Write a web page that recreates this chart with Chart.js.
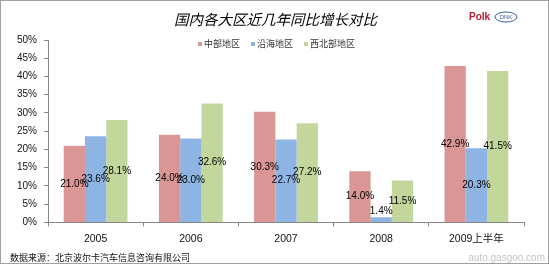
<!DOCTYPE html>
<html>
<head>
<meta charset="utf-8">
<script src="https://cdn.jsdelivr.net/npm/chart.js@4/dist/chart.umd.min.js"></script>
<style>
  body { margin: 0; background: #fff; }
  #wrap { width: 547px; height: 262px; border: 1px solid #a0a0a0; position: relative; }
</style>
</head>
<body>
<div id="wrap"><canvas id="growth"></canvas></div>
<script>
var years = ["2005", "2006", "2007", "2008", "2009上半年"];
var central = [21.0, 24.0, 30.3, 14.0, 42.9];
var coastal = [23.6, 23.0, 22.7, 1.4, 20.3];
var northwest = [28.1, 32.6, 27.2, 11.5, 41.5];

var seriesNames = ["中部地区", "沿海地区", "西北部地区"];
var barColors = ["#D99694", "#8EB4E3", "#C3D69B"];

var titleText = "国内各大区近几年同比增长对比";
var sourceText = "数据来源：北京波尔卡汽车信息咨询有限公司";

var cjk = '"Noto Sans CJK SC", sans-serif';
var latin = '"Liberation Sans", Arial, sans-serif';

// value labels in the middle of each bar, kept above the axis for tiny bars
var valueLabels = {
  id: "valueLabels",
  afterDatasetsDraw: function(chart) {
    var ctx = chart.ctx;
    ctx.save();
    ctx.font = "10px " + latin;
    ctx.fillStyle = "#000";
    ctx.textAlign = "center";
    ctx.textBaseline = "middle";
    chart.data.datasets.forEach(function(ds, i) {
      chart.getDatasetMeta(i).data.forEach(function(bar, j) {
        var y = Math.min((bar.y + bar.base) / 2, bar.base - 11);
        ctx.fillText(ds.data[j].toFixed(1) + "%", bar.x, y);
      });
    });
    ctx.restore();
  }
};

// title, legend inside the plot, source line and marks
var decor = {
  id: "decor",
  afterDraw: function(chart) {
    var ctx = chart.ctx;
    var area = chart.chartArea;
    ctx.save();

    ctx.fillStyle = "#000";
    ctx.textBaseline = "middle";
    ctx.textAlign = "center";
    ctx.font = "italic 14.5px " + cjk;
    ctx.fillText(titleText, chart.width / 2 + 1, 18);

    // legend
    ctx.font = "9px " + cjk;
    ctx.textAlign = "left";
    var widths = seriesNames.map(function(n) { return 6 + ctx.measureText(n).width; });
    var total = widths.reduce(function(a, b) { return a + b; }, 0) + 11 * (widths.length - 1);
    var x = chart.width / 2 - total / 2 + 2;
    var ly = area.top + 4;
    seriesNames.forEach(function(n, i) {
      ctx.fillStyle = barColors[i];
      ctx.fillRect(x, ly - 2, 4, 4);
      ctx.fillStyle = "#333";
      ctx.fillText(n, x + 6, ly);
      x += widths[i] + 11;
    });

    // source
    ctx.fillStyle = "#111";
    ctx.font = "9px " + cjk;
    ctx.fillText(sourceText, 9, chart.height - 5);

    // watermark
    ctx.fillStyle = "#c4c4c4";
    ctx.font = "10px " + latin;
    ctx.textAlign = "right";
    ctx.fillText("auto.gasgoo.com", chart.width - 3, chart.height - 5);

    // logos
    ctx.textAlign = "left";
    ctx.fillStyle = "#b02030";
    ctx.font = "bold 10px " + latin;
    ctx.fillText("Polk", 468, 16);
    ctx.strokeStyle = "#4060a0";
    ctx.lineWidth = 1;
    ctx.beginPath();
    ctx.ellipse(505, 16, 11, 5, 0, 0, Math.PI * 2);
    ctx.stroke();
    ctx.fillStyle = "#4060a0";
    ctx.font = "6px " + latin;
    ctx.textAlign = "center";
    ctx.fillText("DNK", 505, 16.5);

    ctx.restore();
  }
};

new Chart("growth", {
  type: "bar",
  data: {
    labels: years,
    datasets: [
      { label: seriesNames[0], data: central, backgroundColor: barColors[0] },
      { label: seriesNames[1], data: coastal, backgroundColor: barColors[1] },
      { label: seriesNames[2], data: northwest, backgroundColor: barColors[2] }
    ]
  },
  options: {
    responsive: true,
    maintainAspectRatio: false,
    animation: false,
    layout: { padding: { top: 39, left: 9, right: 24, bottom: 12 } },
    datasets: { bar: { categoryPercentage: 0.67, barPercentage: 1.0 } },
    plugins: {
      legend: { display: false },
      title: { display: false },
      tooltip: { enabled: false }
    },
    scales: {
      x: {
        grid: { offset: true, drawOnChartArea: false, tickLength: 4, color: "#868686" },
        border: { color: "#868686" },
        ticks: { color: "#111", padding: 6, font: { size: 10.5, family: latin + ", " + cjk } }
      },
      y: {
        min: 0,
        max: 50,
        grid: { drawOnChartArea: false, tickLength: 4, color: "#868686" },
        border: { color: "#868686" },
        ticks: {
          stepSize: 5,
          padding: 7,
          color: "#111",
          font: { size: 10, family: latin },
          callback: function(v) { return v + "%"; }
        }
      }
    }
  },
  plugins: [valueLabels, decor]
});
</script>
</body>
</html>
